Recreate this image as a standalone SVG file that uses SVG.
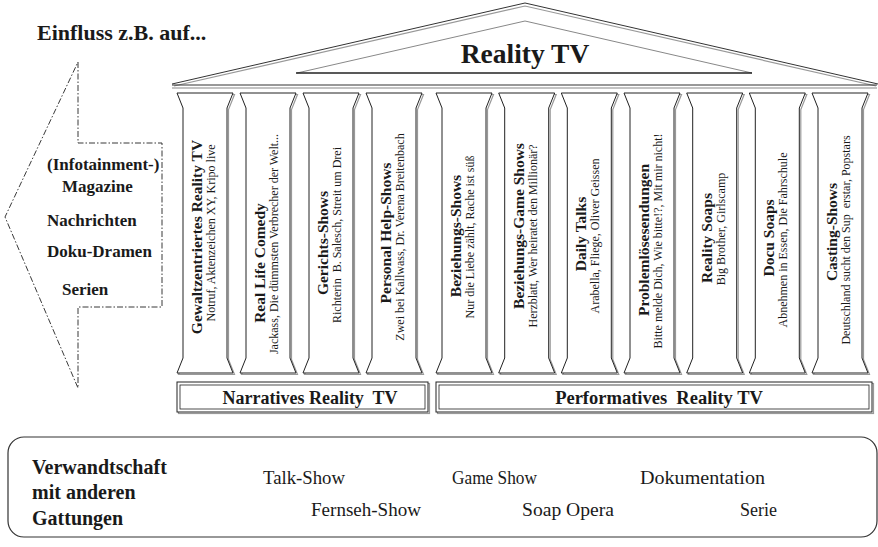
<svg xmlns="http://www.w3.org/2000/svg" width="878" height="547" viewBox="0 0 878 547">
<style>
text{font-family:"Liberation Serif","DejaVu Serif",serif;fill:#1a1a1a}
.b{font-weight:bold}
.ttl{font-size:15.5px;font-weight:bold;text-anchor:middle}
.sub{font-size:12px;text-anchor:middle}
.colb{fill:#fff;stroke:#222;stroke-width:1}
.cols{fill:none;stroke:#999;stroke-width:1.2}
.dd{fill:none;stroke:#222;stroke-width:0.9;stroke-dasharray:6 2 1.5 2}
.gen{font-size:18px}
.grp{font-size:20px;font-weight:bold}
.arr{font-size:17px;font-weight:bold}
</style>
<defs>
<path id="colshape" d="M0,93 H56 L50,108 V358 L56,373 H0 L6,358 V108 Z"/>
</defs>
<rect width="878" height="547" fill="#fff"/>

<text class="b" x="37" y="40" font-size="22">Einfluss z.B. auf...</text>

<g id="roof">
<polyline points="174,86 525,6 876,86" fill="none" stroke="#999" stroke-width="1.2"/>
<polyline points="172,84 525,3 878,84" fill="none" stroke="#333" stroke-width="1"/>
<line x1="172" y1="85" x2="877" y2="85" stroke="#333" stroke-width="1"/>
<line x1="172" y1="88" x2="877" y2="88" stroke="#888" stroke-width="1.2"/>
<polyline points="297,73 525,21 752,73" fill="none" stroke="#888" stroke-width="1"/>
<line x1="296" y1="73" x2="752" y2="73" stroke="#222" stroke-width="1.3"/>
<text class="b" x="525" y="63" font-size="27.5" text-anchor="middle">Reality TV</text>
</g>

<g id="einfluss">
<path class="dd" d="M78,62 V143 H162 V307 H78 V388 L5,217 Z"/>
<text class="arr" x="47" y="170">(Infotainment-)</text>
<text class="arr" x="62" y="192">Magazine</text>
<text class="arr" x="47" y="226">Nachrichten</text>
<text class="arr" x="47" y="257">Doku-Dramen</text>
<text class="arr" x="62" y="295">Serien</text>
</g>

<g id="col1">
<use href="#colshape" class="cols" transform="translate(178.5,1.5)"/>
<use href="#colshape" class="colb" transform="translate(177,0)"/>
<text class="ttl" transform="translate(202,237) rotate(-90)">Gewaltzentriertes Reality TV</text>
<text class="sub" transform="translate(215,233) rotate(-90)">Notruf, Aktenzeichen XY, Kripo live</text>
</g>
<g id="col2">
<use href="#colshape" class="cols" transform="translate(241.5,1.5)"/>
<use href="#colshape" class="colb" transform="translate(240,0)"/>
<text class="ttl" transform="translate(265,263) rotate(-90)">Real Life Comedy</text>
<text class="sub" transform="translate(278,244) rotate(-90)">Jackass, Die dümmsten Verbrecher der Welt...</text>
</g>
<g id="col3">
<use href="#colshape" class="cols" transform="translate(304.5,1.5)"/>
<use href="#colshape" class="colb" transform="translate(303,0)"/>
<text class="ttl" transform="translate(328,243) rotate(-90)">Gerichts-Shows</text>
<text class="sub" xml:space="preserve" transform="translate(341,235) rotate(-90)">Richterin  B. Salesch, Streit um Drei</text>
</g>
<g id="col4">
<use href="#colshape" class="cols" transform="translate(367.5,1.5)"/>
<use href="#colshape" class="colb" transform="translate(366,0)"/>
<text class="ttl" transform="translate(391,233) rotate(-90)">Personal Help-Shows</text>
<text class="sub" transform="translate(404,237) rotate(-90)">Zwei bei Kallwass, Dr. Verena Breitenbach</text>
</g>
<g id="col5">
<use href="#colshape" class="cols" transform="translate(437.5,1.5)"/>
<use href="#colshape" class="colb" transform="translate(436,0)"/>
<text class="ttl" transform="translate(461,236) rotate(-90)">Beziehungs-Shows</text>
<text class="sub" transform="translate(474,237) rotate(-90)">Nur die Liebe zählt, Rache ist süß</text>
</g>
<g id="col6">
<use href="#colshape" class="cols" transform="translate(500.2,1.5)"/>
<use href="#colshape" class="colb" transform="translate(498.7,0)"/>
<text class="ttl" transform="translate(524,226) rotate(-90)">Beziehungs-Game Shows</text>
<text class="sub" transform="translate(537,236) rotate(-90)">Herzblatt, Wer heiratet den Millionär?</text>
</g>
<g id="col7">
<use href="#colshape" class="cols" transform="translate(562.8,1.5)"/>
<use href="#colshape" class="colb" transform="translate(561.3,0)"/>
<text class="ttl" transform="translate(586,234) rotate(-90)">Daily Talks</text>
<text class="sub" transform="translate(599,236) rotate(-90)">Arabella, Fliege, Oliver Geissen</text>
</g>
<g id="col8">
<use href="#colshape" class="cols" transform="translate(625.5,1.5)"/>
<use href="#colshape" class="colb" transform="translate(624,0)"/>
<text class="ttl" transform="translate(649,240) rotate(-90)">Problemlösesendungen</text>
<text class="sub" transform="translate(662,241) rotate(-90)">Bitte melde Dich, Wie bitte!?, Mit mir nicht!</text>
</g>
<g id="col9">
<use href="#colshape" class="cols" transform="translate(688.2,1.5)"/>
<use href="#colshape" class="colb" transform="translate(686.7,0)"/>
<text class="ttl" transform="translate(712,238) rotate(-90)">Reality Soaps</text>
<text class="sub" transform="translate(725,229) rotate(-90)">Big Brother, Girlscamp</text>
</g>
<g id="col10">
<use href="#colshape" class="cols" transform="translate(750.8,1.5)"/>
<use href="#colshape" class="colb" transform="translate(749.3,0)"/>
<text class="ttl" transform="translate(774,238) rotate(-90)">Docu Soaps</text>
<text class="sub" transform="translate(787,240) rotate(-90)">Abnehmen in Essen, Die Fahrschule</text>
</g>
<g id="col11">
<use href="#colshape" class="cols" transform="translate(813.5,1.5)"/>
<use href="#colshape" class="colb" transform="translate(812,0)"/>
<text class="ttl" transform="translate(837,232) rotate(-90)">Casting-Shows</text>
<text class="sub" xml:space="preserve" transform="translate(850,240) rotate(-90)">Deutschland sucht den Sup  erstar, Popstars</text>
</g>

<g id="narratives">
<rect x="178.5" y="383.5" width="251" height="30" fill="none" stroke="#999" stroke-width="1.2"/>
<rect x="177" y="382" width="251" height="30" fill="#fff" stroke="#222"/>
<rect x="180" y="385" width="245" height="24" fill="none" stroke="#222" stroke-width="0.8"/>
<text class="b" xml:space="preserve" x="310" y="404" font-size="18" text-anchor="middle">Narratives Reality  TV</text>
</g>
<g id="performatives">
<rect x="437.5" y="383.5" width="436" height="30" fill="none" stroke="#999" stroke-width="1.2"/>
<rect x="436" y="382" width="436" height="30" fill="#fff" stroke="#222"/>
<rect x="439" y="385" width="430" height="24" fill="none" stroke="#222" stroke-width="0.8"/>
<text class="b" xml:space="preserve" x="659" y="404" font-size="18.5" text-anchor="middle">Performatives  Reality TV</text>
</g>

<g id="verwandtschaft">
<rect x="8" y="437" width="869" height="100" rx="16" ry="16" fill="none" stroke="#333" stroke-width="1.2"/>
<text class="grp" x="32" y="474">Verwandtschaft</text>
<text class="grp" x="32" y="499">mit anderen</text>
<text class="grp" x="32" y="525">Gattungen</text>
<text class="gen" x="263" y="484" textLength="82" lengthAdjust="spacingAndGlyphs">Talk-Show</text>
<text class="gen" x="452" y="484" textLength="85" lengthAdjust="spacingAndGlyphs">Game Show</text>
<text class="gen" x="640" y="484" textLength="125" lengthAdjust="spacingAndGlyphs">Dokumentation</text>
<text class="gen" x="311" y="516" textLength="110" lengthAdjust="spacingAndGlyphs">Fernseh-Show</text>
<text class="gen" x="522" y="516" textLength="92" lengthAdjust="spacingAndGlyphs">Soap Opera</text>
<text class="gen" x="740" y="516" textLength="37" lengthAdjust="spacingAndGlyphs">Serie</text>
</g>
</svg>
